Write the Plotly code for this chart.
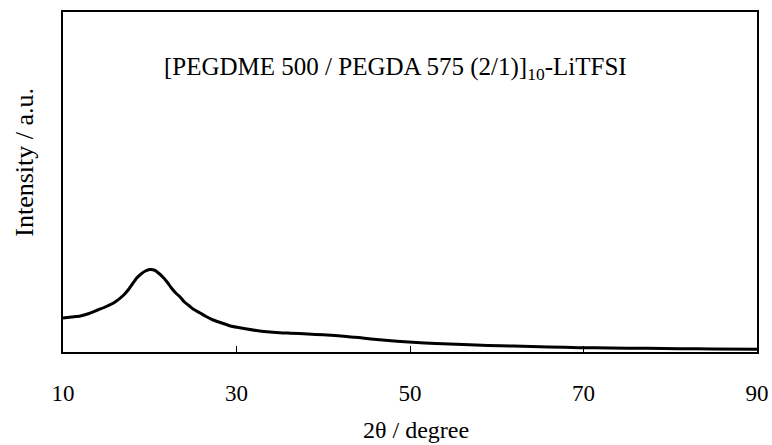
import plotly.graph_objects as go

two_theta = [10, 11, 12, 13, 14, 15, 16, 17, 17.5, 18, 18.5, 19, 19.5, 20, 20.5, 21, 21.5,
             22, 22.5, 23, 23.5, 24, 24.5, 25, 25.8, 26.5, 27.3, 28.3, 29.3, 30.2, 31.2,
             32.3, 33.5, 35, 36.2, 38.2, 40, 42.7, 44.5, 46.5, 48.5, 50.3, 53, 56.1, 59,
             61.9, 66, 69.6, 73, 77.3, 81, 84.9, 90]
intensity = [34, 35, 36, 38.5, 42, 45.5, 50, 57, 62, 68, 74, 78, 81, 82.5, 82, 79, 75,
             70, 64, 59, 55, 50, 46.5, 43, 39, 35.5, 32, 29, 26, 24.5, 23,
             21.5, 20.3, 19.3, 18.8, 18, 17.2, 15.6, 14, 12.2, 10.8, 9.7, 8.5, 7.5, 6.6,
             6, 5, 4.3, 4, 3.7, 3.3, 3, 2.8]
x_ticks = [10, 30, 50, 70, 90]

font = "Liberation Serif, Times New Roman, serif"

fig = go.Figure()
fig.add_trace(go.Scatter(x=two_theta, y=intensity, mode="lines",
                         line=dict(color="black", width=3, shape="spline", smoothing=0.6),
                         showlegend=False, hoverinfo="skip"))

fig.update_layout(
    width=772, height=445,
    margin=dict(l=63, r=15, t=12, b=93),
    paper_bgcolor="white", plot_bgcolor="white",
    font=dict(family=font, size=23, color="black"),
    xaxis=dict(range=[10, 90], tickvals=x_ticks, ticktext=[str(v) for v in x_ticks],
               ticks="inside", ticklen=6, tickwidth=1, tickcolor="black",
               showline=True, linecolor="black", linewidth=1.5, mirror=True,
               showgrid=False, zeroline=False, ticklabelstandoff=20, automargin=False,
               tickfont=dict(family=font, size=23, color="black")),
    yaxis=dict(range=[0, 340], showticklabels=False, ticks="", automargin=False,
               showline=True, linecolor="black", linewidth=1.5, mirror=True,
               showgrid=False, zeroline=False),
    annotations=[
        dict(text="[PEGDME 500 / PEGDA 575 (2/1)]<sub>10</sub>-LiTFSI",
             xref="paper", yref="paper", x=0.479, y=0.835,
             xanchor="center", yanchor="middle", showarrow=False,
             font=dict(family=font, size=25, color="black")),
        dict(text="2θ / degree", xref="paper", yref="paper", x=0.509, y=-0.23,
             xanchor="center", yanchor="middle", showarrow=False,
             font=dict(family=font, size=24, color="black")),
        dict(text="Intensity / a.u.", xref="paper", yref="paper", x=-0.056, y=0.557,
             xanchor="center", yanchor="middle", showarrow=False, textangle=-90,
             font=dict(family=font, size=26, color="black")),
    ],
)

fig.write_html("out.html")
